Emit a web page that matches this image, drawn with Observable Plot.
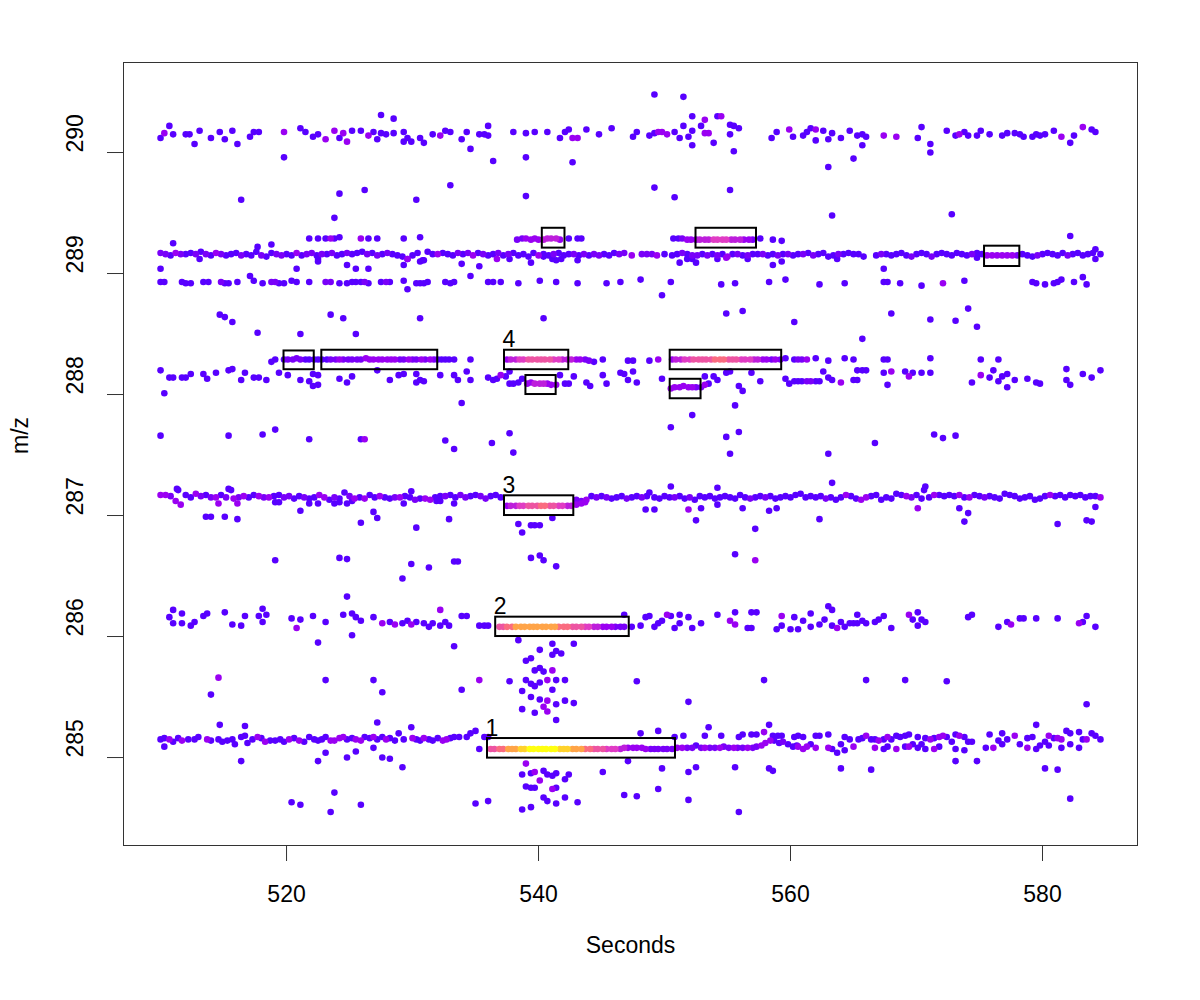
<!DOCTYPE html>
<html>
<head>
<meta charset="utf-8">
<script src="https://cdn.jsdelivr.net/npm/d3@7"></script>
<script src="https://cdn.jsdelivr.net/npm/@observablehq/plot@0.6"></script>
<style>
  html, body { margin: 0; padding: 0; background: #fff; }
  #chart svg { display: block; }
</style>
</head>
<body>
<div id="chart"></div>
<script>
// ---------- axis ticks ----------
const xTicks = [520, 540, 560, 580];
const yTicks = [285, 286, 287, 288, 289, 290];

// ---------- boxed features ----------
const boxRtMin = [535.95, 536.6, 537.3, 537.3, 539.0, 550.45, 550.45, 519.8, 522.8, 540.3, 552.5, 575.4];
const boxRtMax = [550.87, 547.2, 542.8, 542.4, 541.4, 559.3, 552.9, 522.2, 532.0, 542.1, 557.3, 578.2];
const boxMzMin = [284.995, 286.0, 287.0, 288.205, 288.0, 288.205, 287.965, 288.205, 288.205, 289.21, 289.21, 289.058];
const boxMzMax = [285.157, 286.16, 287.163, 288.366, 288.157, 288.366, 288.126, 288.36, 288.366, 289.374, 289.374, 289.226];
const boxLabel = ["1", "2", "3", "4", "", "", "", "", "", "", "", ""];

// ---------- centroid points: [seconds, m/z, intensity level (default 1)] ----------
const band290 = [
[510.0,290.12],[510.3,290.16,3],[510.7,290.22],[511.0,290.15],[512.0,290.15],[512.3,290.15],[512.7,290.07],[513.1,290.18],[514.0,290.12],[514.7,290.17],[515.1,290.11],[515.7,290.18],[516.1,290.07],[517.1,290.13],[517.4,290.17],[517.8,290.17],[519.8,290.17,3],[519.8,289.96],[521.1,290.2],[521.5,290.17],[522.1,290.13],[522.5,290.15],[523.1,290.11,3],[523.8,290.18,3],[524.2,290.12],[524.5,290.16,3],[524.8,290.09,3],[525.2,290.18],[525.9,290.18],[526.5,290.14,3],[526.9,290.17],[527.2,290.11],[527.5,290.31],[527.5,290.16],[527.9,290.15],[528.5,290.16],[528.5,290.28],[529.3,290.17],[529.3,290.09],[529.6,290.12],[529.9,290.09],[530.6,290.12],[530.9,290.08],[531.6,290.15],[532.2,290.14,3],[532.6,290.18],[533.0,290.17],[533.9,290.11],
[534.3,290.17],[534.6,290.03],[535.3,290.15],[535.7,290.15],[536.0,290.22],[536.0,290.14],[536.4,289.93],[538.0,290.17],[539.0,290.16],[539.0,289.96],[539.7,290.17],[540.7,290.17],[541.7,290.12],[542.1,290.17],[542.4,290.19],[542.7,290.12,3],[543.1,290.12,3],[542.7,289.92],[543.8,290.19],[544.8,290.15],[545.8,290.2],[547.5,290.13],[547.8,290.17],[548.8,290.14],[549.2,290.16],[549.5,290.17,3],[549.8,290.17,3],[550.2,290.15,3],[549.2,290.48],[550.8,290.17],[551.2,290.12],[551.5,290.46],[551.5,290.22],[551.9,290.13],[552.2,290.3],[552.2,290.18],[552.2,290.06],[552.9,290.22],[553.2,290.27,3],[553.2,290.16,3],[553.5,290.16,3],[553.9,290.08],[554.2,290.3],[554.5,290.3,3],[555.2,290.23],[555.2,290.15],[555.5,290.22],[555.9,290.2],[555.5,290.01],[558.5,290.12],[558.9,290.17],[559.9,290.19,3],[560.2,290.13],
[561.0,290.14],[561.3,290.17],[561.6,290.2],[562.0,290.19,3],[562.0,290.1],[562.6,290.18],[563.0,290.11],[563.3,290.16],[563.0,289.88],[564.0,290.12],[564.7,290.18],[565.0,289.95],[565.3,290.14],[565.7,290.15],[566.0,290.13],[565.7,290.06],[567.4,290.14,3],[568.4,290.13,3],[570.1,290.12],[570.4,290.21],[571.1,290.07],[571.1,290.0],[572.4,290.18],[573.1,290.14],[573.4,290.15,3],[573.8,290.17],[574.1,290.14],[574.8,290.14],[575.1,290.18],[575.8,290.15],[576.8,290.14],[577.2,290.16],[577.8,290.16],[578.2,290.15],[578.5,290.13],[579.2,290.13],[579.5,290.15],[579.8,290.14],[580.2,290.15],[580.9,290.18],[581.5,290.13,3],[582.2,290.08],[582.5,290.14],[583.2,290.21,3],[583.9,290.19],[584.2,290.17]
];

const scatter2895 = [
[516.4,289.61],[524.2,289.66],[526.2,289.69],[523.8,289.46],[530.3,289.61],[533.0,289.73],[539.0,289.64],[549.2,289.71],[550.8,289.63],[555.2,289.69],[563.3,289.48],[572.8,289.49]
];

const band2893 = [
[521.8,289.29],[522.5,289.29],[523.1,289.29],[523.5,289.29,3],[523.8,289.29],[524.2,289.3],[525.9,289.29,3],[526.5,289.29],[527.2,289.29],[529.3,289.29],[530.6,289.3],[511.0,289.25],[518.8,289.24],[517.7,289.22],
[538.3,289.28,2],[538.7,289.29,2],[539.0,289.29,3],[539.4,289.28,3],[539.7,289.29,3],[540.0,289.28,3],[540.4,289.28,4],[540.7,289.29,4],[541.0,289.29,4],[541.4,289.29,4],[541.7,289.28,3],[542.4,289.29],[543.1,289.29],[543.4,289.29],
[550.7,289.29],[551.1,289.29],[551.4,289.29,2],[551.8,289.28,3],[552.1,289.28,3],[552.5,289.28,3],[552.8,289.28,4],[553.2,289.28,4],[553.5,289.28,4],[553.9,289.28,5],[554.2,289.28,5],[554.6,289.28,5],[554.9,289.28,5],[555.3,289.28,4],[555.6,289.28,4],[556.0,289.28,4],[556.3,289.28,3],[556.7,289.28,3],[557.0,289.28,2],[557.6,289.29],[558.6,289.28],[559.3,289.27],[582.2,289.31],[584.2,289.2]
];

const band2892 = [
[510.0,289.17,2],[510.4,289.16,2],[510.8,289.15],[511.2,289.17,3],[511.6,289.16,2],[512.0,289.16],[512.4,289.17],[512.8,289.16,2],[513.2,289.18],[513.6,289.16,2],[514.0,289.15],[514.4,289.17,3],[514.8,289.16,2],[515.2,289.15],[515.6,289.16],[516.0,289.17],[516.4,289.15,2],[516.8,289.16],[517.2,289.15],[517.6,289.18],[518.0,289.15,2],[518.4,289.14],[518.8,289.17],[519.2,289.16,2],[519.6,289.15,2],[520.0,289.16],[520.4,289.15],[520.8,289.17,3],[521.2,289.15],[521.6,289.16,2],[522.0,289.17,2],[522.4,289.15],[522.8,289.16,2],[523.2,289.16],[523.6,289.17,2],[524.0,289.15],[524.4,289.16],[524.8,289.17,2],[525.2,289.16],[525.6,289.17],[526.0,289.18],[526.4,289.16,2],[526.8,289.17],[527.2,289.15,2],[527.6,289.16],[528.0,289.17,2],[528.4,289.16],[528.8,289.15],[529.2,289.14],[529.6,289.12,3],[530.0,289.15],[530.4,289.17],[530.8,289.11],[531.2,289.18],[531.6,289.16],[532.0,289.16,3],[532.4,289.17],[532.8,289.16],[533.2,289.15],[533.6,289.17,2],
[534.0,289.16],[534.4,289.17,2],[534.8,289.15,3],[535.2,289.17],[535.6,289.16,2],[536.0,289.15],[536.4,289.16],[536.8,289.17,2],[537.2,289.15],[537.6,289.16,2],[538.0,289.17],[538.4,289.15],[538.8,289.16],[539.2,289.14],[539.6,289.17],[540.0,289.15,3],[540.4,289.16],[540.8,289.15],[541.2,289.16,2],[541.6,289.17],[542.0,289.15],[542.4,289.16],[542.8,289.16,2],[543.2,289.15],[543.6,289.16,2],[544.0,289.15],[544.4,289.16,2],[544.8,289.15,2],[545.2,289.16],[545.6,289.15],[546.0,289.17],[546.4,289.16,2],[546.8,289.17,2],[547.4,289.15,3],[548.2,289.16,2],[548.6,289.16,2],[549.0,289.16,2],[549.4,289.15,3],[550.0,289.16],[550.6,289.15],[551.0,289.16],[551.4,289.17,2],[551.8,289.16],[552.2,289.15,2],[552.6,289.15,2],[553.0,289.16],[553.4,289.15,2],[553.8,289.16],[554.2,289.15,2],[554.6,289.16],[555.0,289.14,3],[555.4,289.16],[555.8,289.16,2],[556.2,289.15],[556.6,289.15,2],[557.0,289.16],[557.4,289.16],[557.8,289.16,2],[558.2,289.15],[558.6,289.16],[559.0,289.15,2],[559.4,289.16],[559.8,289.16,2],[560.2,289.15],[560.6,289.16],
[561.0,289.16,2],[561.4,289.17],[561.8,289.15,2],[562.2,289.16],[562.6,289.17],[563.0,289.14],[563.4,289.15],[563.8,289.16,2],[564.2,289.16],[564.6,289.17],[565.0,289.16],[565.4,289.16],[565.8,289.14],[566.8,289.15],[567.2,289.16,2],[567.6,289.16],[568.0,289.15],[568.4,289.16],[568.8,289.17],[569.2,289.15],[569.6,289.14,2],[570.0,289.16],[570.4,289.17],[570.8,289.16],[571.2,289.14,2],[571.6,289.16],[572.0,289.17],[572.4,289.16],[572.8,289.15],[573.2,289.17],[573.6,289.16],[574.0,289.15],[574.4,289.16,2],[574.8,289.17],[575.2,289.16],[575.6,289.15,3],[576.0,289.15,3],[576.4,289.15,3],[576.8,289.15,3],[577.2,289.15,3],[577.6,289.15,3],[578.0,289.15,2],[578.4,289.16],[578.8,289.15],[579.2,289.14],[579.6,289.15,2],[580.0,289.16],[580.4,289.17],[580.8,289.16],[581.2,289.15],[581.6,289.17],[582.0,289.15,2],[582.4,289.16],[582.8,289.17],[583.2,289.15],[583.6,289.16],[584.0,289.17],[584.6,289.16],
[510.0,289.04],[513.1,289.12],[520.8,289.04],[522.5,289.12],[522.5,289.1],[524.8,289.07],[525.5,289.04],[526.5,289.04],[529.3,289.07],[529.6,289.12],[530.6,289.1],[530.9,289.11],[533.9,289.08],[535.3,289.06],[536.7,289.12,3],[537.7,289.12],[539.4,289.09],[540.4,289.14],[541.1,289.12],[541.4,289.11],[541.8,289.12],[543.1,289.11],[551.2,289.09],[551.8,289.12],[552.2,289.12],[552.5,289.09],[554.2,289.12],[554.9,289.13,3],[556.6,289.12],[558.6,289.07],[559.3,289.1],[563.7,289.12],[567.4,289.04],[574.8,289.13],[584.2,289.12]
];

const band2889 = [
[510.0,288.93],[510.3,288.93],[511.7,288.93],[512.0,288.92],[512.4,288.92],[513.4,288.93],[513.8,288.93],[514.8,288.93,2],[515.1,288.92],[515.4,288.92],[516.1,288.93],[517.1,288.98],[517.4,288.94],[518.1,288.92],[518.8,288.93,2],[519.1,288.93,2],[519.4,288.92],[519.8,288.92],[520.4,288.94],[520.8,288.93],[521.8,288.93],[523.1,288.93,2],[523.5,288.93,2],[524.2,288.92],[524.8,288.92],[525.2,288.93],[525.5,288.93],[525.9,288.93],[526.2,288.93,2],[526.5,288.92],[527.5,288.93],[527.9,288.93,2],[528.2,288.93],[529.3,288.94],[529.6,288.87],[530.3,288.92],[530.6,288.92],[530.9,288.92],[531.2,288.93],[532.6,288.93],[533.0,288.92],[533.3,288.93],
[534.6,288.98],[536.0,288.93],[536.4,288.93],[537.0,288.93],[538.4,288.92],[540.1,288.94],[541.4,288.93],[543.1,288.92],[545.4,288.92],[546.5,288.93],[548.1,288.95],[550.5,288.93],[549.8,288.82],[554.5,288.91],[555.6,288.92],[558.3,288.93],[559.6,288.95],
[562.3,288.91],[564.3,288.92],[567.4,288.93],[567.7,288.93],[568.7,288.92],[570.4,288.9],[572.1,288.92,3],[573.8,288.94],[579.2,288.93],[579.5,288.92],[580.2,288.91],[580.9,288.92],[581.2,288.93],[581.5,288.95],[582.5,288.93],[583.2,288.97],[583.5,288.91],
[514.7,288.66],[515.1,288.64],[515.7,288.6],[523.5,288.66],[524.5,288.63],[530.6,288.63],[517.7,288.51],[521.1,288.5],[525.5,288.5],[540.4,288.63],[554.9,288.67],[556.2,288.69],[560.3,288.6],[565.7,288.46],[568.0,288.67],[571.1,288.62],[573.1,288.61],[574.1,288.71],[574.8,288.56]
];

const band2883 = [
[518.8,288.27],[519.1,288.29],[519.8,288.29],[520.1,288.29,2],[520.5,288.29,2],[520.8,288.3,2],[521.1,288.29,2],[521.5,288.29],[521.8,288.29],[522.2,288.29],[522.5,288.29],[522.8,288.29],[523.2,288.29],[523.5,288.29,2],[523.9,288.29,2],[524.2,288.29,3],[524.5,288.29,2],[524.9,288.29,2],[525.2,288.29,2],[525.6,288.29,2],[525.9,288.29,2],[526.3,288.3,3],[526.6,288.29,3],[526.9,288.29,3],[527.3,288.29,3],[527.6,288.29,3],[528.0,288.29,3],[528.3,288.29,3],[528.6,288.29,3],[529.0,288.29,2],[529.3,288.29,2],[529.7,288.29,3],[530.0,288.29,2],[530.3,288.29,2],[530.7,288.29,3],[531.0,288.29,2],[531.4,288.29,3],[531.7,288.29,2],[532.0,288.29],[532.3,288.29],[532.6,288.29],[532.9,288.29],[533.3,288.29],[534.6,288.29],
[537.5,288.29,3],[537.8,288.29,4],[538.2,288.29,4],[538.5,288.29,5],[538.8,288.29,5],[539.2,288.29,6],[539.5,288.29,6],[539.9,288.29,6],[540.2,288.29,6],[540.5,288.29,6],[540.9,288.29,6],[541.2,288.29,5],[541.6,288.29,5],[541.9,288.29,4],[542.3,288.29,4],[542.6,288.29,4],[543.0,288.29,3],[543.3,288.29,3],[543.7,288.29,2],[544.0,288.28,2],[544.4,288.27],[545.1,288.29],
[547.1,288.28],[547.5,288.28],[548.8,288.28],[549.5,288.29,3],
[550.6,288.29,3],[550.9,288.29,4],[551.3,288.29,4],[551.6,288.29,5],[552.0,288.29,5],[552.3,288.29,6],[552.7,288.29,6],[553.0,288.29,6],[553.3,288.29,6],[553.7,288.29,6],[554.0,288.29,7],[554.4,288.29,7],[554.7,288.29,7],[555.1,288.29,6],[555.4,288.29,6],[555.7,288.29,6],[556.1,288.29,5],[556.4,288.29,5],[556.8,288.29,5],[557.1,288.29,4],[557.4,288.29,4],[557.8,288.29,3],[558.1,288.29,3],[558.5,288.29,2],[558.8,288.29,3],[559.2,288.29,2],[559.6,288.3],[560.3,288.29],
[560.6,288.29,2],[560.9,288.29,2],[561.3,288.29,3],[562.0,288.3],[563.0,288.28],[564.3,288.3],[565.0,288.29],[567.4,288.29],[567.7,288.29],[571.1,288.3],[575.1,288.29],[576.5,288.29],[581.9,288.21],[584.6,288.2]
];

const band2881 = [
[510.0,288.2],[510.3,288.01],[510.7,288.14],[511.0,288.14],[511.7,288.14],[512.0,288.14],[512.4,288.17],[513.4,288.17],[513.7,288.13],[514.4,288.18],[515.4,288.2],[515.7,288.21],[516.4,288.12],[516.7,288.18],[517.4,288.14],[517.8,288.14],[518.4,288.12],[519.4,288.18],[520.1,288.16],[521.1,288.12],[521.8,288.11],[522.1,288.17],[522.5,288.16],[522.1,288.07],[522.5,288.08],[524.2,288.13],[524.8,288.1],[525.2,288.15],[527.2,288.2],[528.2,288.12],[528.9,288.16],[529.3,288.17],[530.3,288.17],[530.3,288.1],[530.6,288.12],[530.9,288.11],[532.2,288.16],[533.3,288.16],[533.6,288.12],
[534.3,288.19],[534.6,288.12],[536.0,288.14],[536.4,288.12],[536.7,288.13],[537.0,288.16,3],[537.4,288.15],[537.7,288.19],[537.7,288.09],[538.0,288.09],[538.4,288.1],[538.7,288.13],[541.7,288.16],[542.1,288.09],[542.4,288.09],[542.8,288.15],[543.8,288.1],[544.1,288.07],[545.1,288.16],[545.4,288.09],[546.5,288.18],[546.8,288.17],[547.1,288.12],[547.5,288.19],[547.8,288.1],[549.8,288.13],[553.2,288.08,3],[553.2,288.15],[553.5,288.09],[553.9,288.15],[554.2,288.12],[554.9,288.18],[555.2,288.19],[555.9,288.07],[556.2,288.03],[556.9,288.18],[557.6,288.11],[559.6,288.13],[559.9,288.09],[560.3,288.11],
[560.6,288.11],[560.9,288.11],[561.3,288.11,2],[561.6,288.11,2],[562.0,288.11],[562.3,288.11],[562.6,288.19],[563.0,288.14],[563.3,288.12],[564.0,288.1,3],[565.0,288.12],[565.3,288.12],[565.3,288.2],[565.7,288.2],[566.0,288.2],[567.4,288.18],[567.7,288.08],[568.0,288.19,3],[569.1,288.19],[569.4,288.15,3],[569.7,288.18],[570.4,288.18],[571.1,288.18],[574.4,288.1],[575.1,288.16,3],[575.8,288.14],[576.1,288.2],[576.5,288.11],[576.8,288.15],[577.2,288.17],[577.2,288.06],[577.8,288.12],[578.8,288.13],[579.5,288.1],[579.8,288.09],[581.9,288.12],[582.2,288.08],[583.2,288.17],[583.9,288.14],
[539.1,288.09,3],[539.4,288.1,3],[539.7,288.09,4],[540.1,288.09,4],[540.4,288.09,4],[540.7,288.09,3],[541.0,288.08,3],[541.4,288.08,3],
[550.5,288.05,3],[550.8,288.06,3],[551.2,288.06,3],[551.5,288.07,3],[551.9,288.06,3],[552.2,288.06,3],[552.5,288.06,2],[552.9,288.06,2]
];

const scatter2877 = [
[510.0,287.66],[515.4,287.66],[518.1,287.67],[519.1,287.71],[521.8,287.63],[525.9,287.63],[526.2,287.63,3],[532.6,287.62],[533.3,287.55],[533.9,287.93],[537.7,287.68],[536.3,287.6],[538.0,287.52],[550.5,287.73],[552.2,287.83],[555.6,287.91],[554.9,287.65],[555.9,287.69],[555.2,287.51],[563.0,287.51],[566.7,287.6],[571.4,287.67],[572.1,287.64],[573.1,287.66]
];

const band2872 = [
[510.0,287.17,3],[510.4,287.17,3],[510.8,287.16,2],[511.2,287.12,3],[511.4,287.21],[511.6,287.09,3],[512.0,287.17],[512.4,287.15],[512.8,287.18,3],[513.2,287.16,2],[513.6,287.17],[514.0,287.15,2],[514.4,287.15,3],[514.8,287.17],[515.2,287.15,2],[515.6,287.21],[515.8,287.14,3],[516.2,287.15,2],[516.6,287.16,3],[517.0,287.15],[517.4,287.17],[517.8,287.16,3],[518.2,287.15,2],[518.6,287.15,3],[519.0,287.16],[519.4,287.17],[519.8,287.15,2],[520.2,287.16,2],[520.6,287.14],[521.0,287.16],[521.4,287.15,2],[521.8,287.14],[522.2,287.15],[522.6,287.17,3],[523.0,287.15,3],[523.4,287.13],[523.8,287.15,2],[524.2,287.14],[524.6,287.19],[525.0,287.16,2],[525.4,287.14,3],[525.8,287.15],[526.2,287.14,3],[526.6,287.17],[527.0,287.15],[527.4,287.16,3],[527.8,287.15],[528.2,287.14],[528.6,287.15,2],[529.0,287.15,3],[529.4,287.16],[529.8,287.15],[530.2,287.13,2],[530.6,287.14],[531.0,287.14,3],[531.4,287.13,3],[531.8,287.15],[532.2,287.16],[532.6,287.16,2],[533.0,287.17],[533.4,287.15],[533.8,287.17,2],
[534.2,287.15,2],[534.6,287.16],[535.0,287.17],[535.4,287.16,2],[535.8,287.14,2],[536.2,287.16],[536.6,287.17],[537.0,287.15],
[543.0,287.13,2],[543.4,287.12,2],[543.8,287.13,3],[544.2,287.16],[544.6,287.15,2],[545.0,287.16],[545.4,287.15,2],[545.8,287.14],[546.2,287.15],[546.6,287.16],[547.0,287.14,2],[547.4,287.15],[547.8,287.16],[548.2,287.15,2],[548.6,287.16],[548.8,287.19],[549.2,287.15],[549.6,287.14],[550.0,287.16],[550.4,287.15],[550.8,287.15,2],[551.2,287.16],[551.6,287.14],[552.0,287.15,2],[552.4,287.13],[552.8,287.16],[553.2,287.15],[553.6,287.16],[554.0,287.14],[554.4,287.15],[554.8,287.16],[555.2,287.15],[555.6,287.14],[556.0,287.17],[556.4,287.15],[556.8,287.14,2],[557.2,287.15],[557.6,287.16],[558.0,287.15,2],[558.4,287.16],[558.8,287.14],[559.2,287.15],[559.6,287.16],[560.0,287.15],[560.4,287.17],
[560.8,287.18],[561.2,287.15],[561.6,287.16],[562.0,287.15],[562.4,287.16],[562.8,287.14,2],[563.2,287.15],[563.6,287.13],[564.0,287.15],[564.4,287.17,3],[564.8,287.16],[565.2,287.14],[565.6,287.13,3],[566.0,287.15,3],[566.4,287.16],[566.8,287.17],[567.2,287.13],[567.6,287.15],[568.0,287.14],[568.4,287.18],[568.8,287.17],[569.2,287.16,3],[569.6,287.15,2],[570.0,287.17],[570.4,287.14],[570.6,287.21],[571.0,287.15],[571.4,287.17,3],[571.8,287.17],[572.2,287.16],[572.6,287.17],[573.0,287.16],[573.4,287.17,3],[573.8,287.15],[574.2,287.15,3],[574.6,287.17],[575.0,287.16],[575.4,287.15,2],[575.8,287.16],[576.2,287.15],[576.6,287.14],[577.0,287.18],[577.4,287.17],[577.8,287.16],[578.2,287.14],[578.6,287.15],[579.0,287.16],[579.4,287.13],[579.8,287.14],[580.2,287.16],[580.6,287.17,3],[581.0,287.16],[581.4,287.17],[581.8,287.15],[582.2,287.17],[582.6,287.16],[583.0,287.17],[583.4,287.15],[583.8,287.16],[584.2,287.16],[584.6,287.15,3],
[537.5,287.08,3],[537.8,287.08,4],[538.2,287.08,4],[538.5,287.08,5],[538.8,287.08,5],[539.2,287.08,6],[539.5,287.08,6],[539.9,287.08,6],[540.2,287.08,7],[540.5,287.08,7],[540.9,287.08,6],[541.2,287.08,6],[541.6,287.08,5],[541.9,287.08,5],[542.3,287.08,4],[542.6,287.08,4],[543.0,287.09,3],[543.4,287.1,3],[543.7,287.11,3],
[513.6,286.99],[514.0,286.99],[515.1,286.99],[516.1,286.97],[516.1,287.1,3],[514.6,287.1,3],[519.1,287.11],[519.4,287.11],[521.1,287.04],[521.8,287.1],[522.5,287.1],[523.8,287.1],[524.2,287.11],[524.8,287.1],[525.2,287.12],[525.9,286.94],[526.9,287.03],[527.2,286.98],[529.3,287.1],[530.3,286.9],[529.9,287.2],[531.9,287.12],[532.2,287.12],[532.9,286.97],[533.3,287.1],[511.3,287.22],[515.4,287.22],
[538.4,286.93],[538.7,286.86],[539.4,286.92],[539.7,286.92],[540.1,286.92],[541.1,286.98],[548.5,287.05],[549.2,287.05],[551.9,287.05,3],[552.5,286.96],[552.9,287.06],[554.2,287.09],[556.2,287.06],[557.2,286.89],[558.3,287.04],[558.9,287.06],[550.5,287.24],[554.2,287.23],
[562.3,286.97],[570.1,287.06,3],[573.4,287.06],[574.1,287.02],[573.8,286.95],[581.2,286.93],[583.5,286.96],[583.9,286.95],[584.2,287.07],[563.3,287.27],[570.7,287.24],
[519.1,286.63],[524.2,286.65],[524.8,286.64],[529.2,286.48],[529.9,286.6],[531.3,286.57],[533.3,286.62],[533.6,286.62],[539.4,286.65],[540.1,286.67],[540.4,286.63],[541.4,286.58],[555.6,286.68],[557.2,286.63,3]
];

const band2861 = [
[510.7,286.16],[511.0,286.22],[511.0,286.11],[511.7,286.19],[511.7,286.11],[512.4,286.09],[512.7,286.12],[513.4,286.17],[513.7,286.19],[515.1,286.2],[515.7,286.1],[516.4,286.09],[516.7,286.17],[517.8,286.17],[518.1,286.23],[518.1,286.12],[518.4,286.18],[520.4,286.15],[520.8,286.07,3],[521.1,286.14],[522.1,286.17],[522.5,285.95],[523.1,286.12],[524.5,286.18],[524.8,286.33],[525.2,286.19],[525.2,286.01],[525.5,286.16],[525.9,286.13],[526.9,286.16],[527.6,286.11,3],[528.2,286.12],[528.6,286.1,3],[529.2,286.11],[529.6,286.13],[529.9,286.1,3],[530.3,286.12],[530.9,286.11],[531.3,286.08],[531.6,286.11],[532.2,286.22,3],[532.2,286.09],[532.6,286.12],[532.9,286.09],[533.3,285.92],[533.9,286.17],
[534.3,286.17],[535.3,286.09],[535.7,286.09],[536.0,286.09],
[536.9,286.08,6],[537.2,286.08,6],[537.5,286.08,7],[537.9,286.08,7],[538.2,286.08,8],[538.6,286.08,8],[538.9,286.08,8],[539.3,286.08,8],[539.6,286.08,8],[539.9,286.08,8],[540.3,286.08,8],[540.6,286.08,8],[541.0,286.08,8],[541.3,286.08,8],[541.6,286.08,7],[542.0,286.08,7],[542.3,286.08,7],[542.7,286.08,6],[543.0,286.08,6],[543.4,286.08,6],[543.7,286.08,5],[544.0,286.08,5],[544.4,286.08,4],[544.7,286.08,4],[545.1,286.08,3],[545.4,286.08,3],[545.8,286.08,3],[546.1,286.08,2],[546.5,286.08,2],[546.8,286.08,2],
[546.8,286.18],[547.4,286.08],[548.1,286.09],[548.5,286.16],[548.8,286.17],[549.2,286.08],[549.5,286.11],[549.8,286.13],[550.2,286.18,3],[550.5,286.17],[550.8,286.07],[551.2,286.11],[551.2,286.18],[551.9,286.16],[552.2,286.07],[552.9,286.11],[554.2,286.18],[555.2,286.13,3],[555.6,286.1,3],[555.6,286.2],[556.6,286.07],[556.9,286.07],[556.9,286.2],[557.3,286.2],[558.9,286.06],[559.3,286.17,3],[559.3,286.09],[560.0,286.06],[560.3,286.16],[560.6,286.06],
[561.0,286.13],[561.6,286.19],[561.6,286.08],[562.3,286.1],[562.7,286.14],[563.0,286.25],[563.3,286.22],[563.3,286.09],[563.7,286.07,3],[564.0,286.12],[564.3,286.08],[564.7,286.11],[565.0,286.11],[565.3,286.11],[565.3,286.18],[565.7,286.13],[566.0,286.11],[566.7,286.12],[567.0,286.14],[567.4,286.17],[568.0,286.07],[569.4,286.18,3],[570.1,286.2],[569.7,286.14],[570.4,286.14],[570.7,286.12],[570.1,286.09],[574.1,286.16],[574.4,286.18],[576.5,286.08],[577.2,286.12],[577.5,286.1,3],[578.2,286.15],[578.5,286.15],[579.5,286.15],[581.2,286.15],[582.9,286.11,3],[583.2,286.12],[583.5,286.17],[584.2,286.08]
];

const scatter2856 = [
[538.4,285.97],[541.1,285.94],[542.8,285.94],[540.1,285.89],[541.1,285.85],[541.4,285.88],[541.8,285.86],[539.0,285.8],[539.4,285.82],[539.7,285.72],[540.1,285.74],[540.4,285.71],[541.1,285.72,3],[539.0,285.64],[539.4,285.61],[539.7,285.59],[540.1,285.62],[540.7,285.64,3],[541.4,285.64],[542.1,285.64],[541.1,285.56],[538.7,285.55],[539.4,285.5],[540.1,285.48],[540.7,285.47,3],[541.4,285.44],[542.1,285.47],[542.8,285.45],[540.4,285.42,3],[540.7,285.38,3],[538.7,285.4],[539.7,285.37],[541.4,285.31],[535.3,285.64,3],[537.7,285.63],[547.8,285.63],[551.9,285.46],[557.9,285.64],[533.9,285.56],
[514.6,285.66,3],[514.0,285.52],[523.1,285.64],[526.9,285.64],[527.6,285.54],
[566.0,285.64],[569.1,285.64],[572.4,285.63],[583.5,285.44]
];

const band2851 = [
[510.0,285.15],[510.3,285.16],[510.3,285.09],[510.7,285.15,3],[511.0,285.13],[511.4,285.16],[511.7,285.14,3],[512.2,285.15],[512.7,285.15],[513.0,285.17],[513.7,285.15,3],[514.0,285.14],[514.6,285.15],[514.7,285.27],[514.9,285.13],[515.3,285.14],[515.7,285.15],[515.9,285.11],[516.4,285.17],[516.4,284.97],[516.7,285.26],[516.7,285.18],[516.9,285.12],[517.3,285.15],[517.7,285.17,3],[518.0,285.16],[518.3,285.13,3],[518.7,285.14],[519.1,285.14],[519.5,285.15],[519.8,285.13],[520.2,285.15,3],[520.6,285.16],[521.0,285.14,3],[521.4,285.13],[521.8,285.17],[522.2,285.15],[522.5,285.14],[522.8,285.15],[523.1,285.17],[523.5,285.14,3],[523.8,285.14,3],[524.2,285.16,3],[524.5,285.17,3],[524.8,285.15],[525.2,285.16],[525.5,285.15,3],[525.9,285.14,3],[526.2,285.17],[526.6,285.16],[526.9,285.17,3],[527.2,285.15],[527.6,285.17],[527.9,285.15,3],[528.2,285.16],[528.6,285.14],[528.9,285.2],[529.3,285.15],[529.9,285.25],[530.0,285.16,3],[530.3,285.15],[530.6,285.14],[530.9,285.16,3],[531.3,285.15],[531.6,285.14],[532.0,285.16],[532.4,285.14,3],[532.7,285.15,3],[533.0,285.16],[533.3,285.17],[533.7,285.17],
[522.5,284.97],[523.1,285.04],[524.8,285.0],[525.5,285.05],[526.9,285.08],[527.6,285.0],[528.2,284.99],[529.2,284.92],[520.4,284.63],[521.1,284.61],[523.8,284.71],[523.5,284.55],[525.9,284.61],[527.2,285.29],
[534.3,285.17],[534.6,285.2],[535.0,285.22],[535.3,285.07],[535.7,285.17],[536.0,285.17],
[536.2,285.07,6],[536.5,285.07,6],[536.9,285.07,7],[537.2,285.07,7],[537.6,285.07,8],[537.9,285.07,8],[538.2,285.07,8],[538.6,285.07,9],[538.9,285.07,9],[539.3,285.07,10],[539.6,285.07,10],[540.0,285.07,10],[540.3,285.07,10],[540.6,285.07,10],[541.0,285.07,10],[541.3,285.07,10],[541.7,285.07,9],[542.0,285.07,9],[542.3,285.07,9],[542.7,285.07,8],[543.0,285.07,8],[543.4,285.07,8],[543.7,285.07,7],[544.1,285.07,7],[544.4,285.07,6],[544.7,285.07,6],[545.1,285.07,6],[545.4,285.07,5],[545.8,285.07,5],[546.1,285.07,5],[546.5,285.07,4],[546.8,285.08,4],[547.1,285.08,3],[547.5,285.08,3],[547.8,285.08,3],[548.2,285.08,3],[548.5,285.07,3],[548.9,285.07,2],[549.2,285.07,2],[549.5,285.07,2],[549.9,285.07,2],[550.2,285.07,2],[550.6,285.07,2],
[551.0,285.08,3],[551.4,285.08,3],[551.8,285.08,2],[552.2,285.08,2],[552.5,285.1],[552.9,285.08,2],[553.2,285.08,3],[553.6,285.08,2],[554.0,285.08,2],[554.4,285.08,3],[554.7,285.09,2],[555.1,285.08,2],[555.5,285.08,3],[555.8,285.08,2],[556.2,285.08,2],[556.6,285.08,3],[557.0,285.08,2],[557.3,285.09,2],[557.7,285.1,3],[558.0,285.12,3],[558.4,285.14,3],[558.7,285.14],[559.1,285.12],[559.4,285.13,2],[559.8,285.11],[560.2,285.09],[560.5,285.1],
[548.1,285.2],[549.5,285.22],[550.8,285.17],[551.5,285.18],[553.2,285.18],[553.5,285.25],[554.5,285.18],[555.9,285.17],[556.2,285.19],[556.9,285.19],[557.3,285.19],[557.9,285.21,3],[558.3,285.27],[558.6,285.18],[559.0,285.18],[559.3,285.18],[560.3,285.17],[560.6,285.18],
[539.0,284.95,3],[538.7,284.86],[539.4,284.87],[539.7,284.88,3],[540.4,284.89],[540.7,284.86],[541.1,284.85],[541.4,284.87],[542.4,284.86],[540.1,284.81,3],[539.0,284.76],[539.4,284.75],[539.7,284.75],[542.1,284.82],[541.1,284.74,3],[541.4,284.75],[540.4,284.67],[540.7,284.64],[541.4,284.62],[542.1,284.67],[543.1,284.63],[538.7,284.57],[539.4,284.59],[535.0,284.62],[536.0,284.64],[545.1,284.88],[547.1,284.97],[546.8,284.69],[547.8,284.68],[549.5,284.74],[549.8,284.91],[551.9,284.88],[552.5,284.92],[551.9,284.65],[555.6,284.92],[558.3,284.91],[558.6,284.89],[555.9,284.55],
[561.0,285.17],[562.0,285.18],[562.3,285.18],[563.0,285.19],[564.3,285.17],[564.7,285.15],[565.4,285.15],[565.7,285.16],[566.0,285.18,3],[566.4,285.15],[566.7,285.15],[567.0,285.14,3],[567.4,285.15],[567.7,285.17,3],[568.0,285.15],[568.4,285.18],[568.7,285.17],[569.1,285.18],[569.4,285.19],[570.1,285.17],[570.7,285.16],[571.1,285.15,3],[571.4,285.16],[571.8,285.17,3],[572.1,285.18,3],[572.4,285.17],[573.1,285.19],[573.4,285.18,3],[573.8,285.17],[574.1,285.13],[574.4,285.13],[575.8,285.19],[576.5,285.14],[576.8,285.2],[577.2,285.15],[577.8,285.18,3],[578.8,285.16],[579.2,285.17],[579.5,285.27],[580.2,285.13],[580.5,285.18,3],[580.9,285.16],[581.2,285.16,3],[581.5,285.15,3],[581.9,285.22],[582.2,285.2],[582.9,285.21],[583.2,285.15],[583.5,285.15,3],[583.9,285.2],[584.2,285.18],[584.6,285.15],
[560.6,285.09,3],[561.0,285.07,3],[561.3,285.09,3],[561.6,285.11],[562.0,285.08,3],[563.0,285.08,3],[563.3,285.07],[563.7,285.04],[564.0,285.11],[564.3,285.06],[565.0,285.09,3],[566.7,285.08,3],[567.4,285.07],[567.7,285.09],[568.4,285.07,3],[569.1,285.09],[569.4,285.09,3],[569.7,285.11],[570.1,285.08],[570.4,285.11],[570.7,285.07],[571.4,285.07,3],[571.8,285.09],[572.8,285.13],[573.1,285.07],[573.8,285.06],[575.5,285.08],[576.1,285.08,3],[576.8,285.11],[578.2,285.11],[578.8,285.08,3],[579.5,285.07],[579.8,285.1],[580.5,285.1],[581.5,285.08],[582.2,285.11],[582.9,285.08],
[564.0,284.91],[566.4,284.9],[573.1,284.97],[574.8,284.97],[580.2,284.91],[581.2,284.9],[582.2,284.66]
];

// ---------- assemble ----------
const groups = [band290, scatter2895, band2893, band2892, band2889, band2883, band2881, scatter2877, band2872, band2861, scatter2856, band2851];
const points = groups.flat().map(([rt, mz, lvl]) => ({rt, mz, lvl: lvl ?? 1}))
  .sort((a, b) => a.lvl - b.lvl);

const boxes = boxRtMin.map((_, k) => ({
  x1: boxRtMin[k], x2: boxRtMax[k], y1: boxMzMin[k], y2: boxMzMax[k], label: boxLabel[k]
}));

const FONT = "'Liberation Sans', Arial, Helvetica, sans-serif";

const chart = Plot.plot({
  width: 1200,
  height: 1000,
  marginLeft: 123,
  marginRight: 63,
  marginTop: 62,
  marginBottom: 155,
  style: {fontFamily: FONT, fontSize: "23px", background: "#fff", color: "#000"},
  x: {domain: [507.06, 587.54]},
  y: {domain: [284.273, 290.744]},
  color: {
    type: "linear",
    domain: [1, 3, 5, 7, 8, 10],
    range: ["#5800ff", "#9a00f2", "#e03cc4", "#fa6c80", "#ffa448", "#ffff10"],
    interpolate: "rgb"
  },
  marks: [
    Plot.dot(points, {x: "rt", y: "mz", fill: "lvl", r: 3.3, stroke: null}),
    Plot.rect(boxes, {x1: "x1", x2: "x2", y1: "y1", y2: "y2", fill: "none", stroke: "#000", strokeWidth: 2}),
    Plot.text(boxes.filter(b => b.label), {x: "x1", y: "y2", text: "label", textAnchor: "start", lineAnchor: "bottom", dx: -2, dy: -3, fontSize: 23, fill: "#000"}),
    Plot.frame({stroke: "#333", strokeWidth: 1}),
    Plot.axisX({ticks: xTicks, tickSize: 16, tickPadding: 24, label: null, fontSize: 23, stroke: "#333"}),
    Plot.axisY({ticks: yTicks, tickSize: 16, tickFormat: () => "", label: null, stroke: "#333"}),
    Plot.text(yTicks, {y: d => d, frameAnchor: "left", dx: -48, rotate: -90, text: d => String(d), fontSize: 23, fill: "#000"}),
    Plot.text(["Seconds"], {frameAnchor: "bottom", dy: 107, text: d => d, fontSize: 23, fill: "#000"}),
    Plot.text(["m/z"], {frameAnchor: "left", dx: -103, rotate: -90, text: d => d, fontSize: 23, fill: "#000"})
  ]
});

document.getElementById("chart").appendChild(chart);
</script>
</body>
</html>
